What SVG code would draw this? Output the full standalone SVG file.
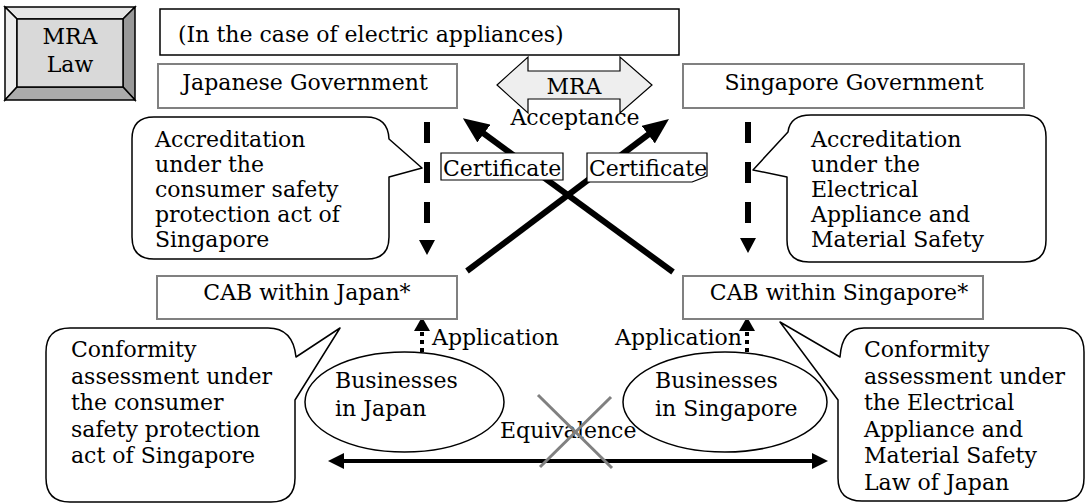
<svg xmlns="http://www.w3.org/2000/svg" width="1086" height="503" viewBox="0 0 1086 503">
<style>
text{font-family:"DejaVu Serif","Liberation Serif",serif;font-size:22px;fill:#000}
.c{text-anchor:middle}
.gbox{fill:#fff;stroke:#808080;stroke-width:2}
.bbox{fill:#fff;stroke:#000;stroke-width:1.5}
.call{fill:#fff;stroke:#000;stroke-width:1.5;stroke-linejoin:round}
.thick{stroke:#000;stroke-width:6;fill:none}
.dash{stroke:#000;stroke-width:6;stroke-dasharray:21 19;fill:none}
.dot{stroke:#000;stroke-width:4;stroke-dasharray:4 4;fill:none}
.head{fill:#000;stroke:none}
.bev{stroke:#000;stroke-width:1.5;stroke-linejoin:miter}
</style>
<defs>
<marker id="ah" viewBox="0 0 26 22" refX="6" refY="11" markerWidth="26" markerHeight="22" markerUnits="userSpaceOnUse" orient="auto">
<path d="M0,0 L26,11 L0,22 z" fill="#000"/>
</marker>
</defs>

<g id="mra-law">
<polygon class="bev" points="5,7 135,7 123,19 17,19" fill="#e6e6e6"/>
<polygon class="bev" points="5,7 17,19 17,87 5,100" fill="#ececec"/>
<polygon class="bev" points="135,7 135,100 123,87 123,19" fill="#999999"/>
<polygon class="bev" points="5,100 17,87 123,87 135,100" fill="#ababab"/>
<rect class="bev" x="17" y="19" width="106" height="68" fill="#d9d9d9"/>
<text class="c" x="70" y="44">MRA</text>
<text class="c" x="70" y="72">Law</text>
</g>

<g id="case-note">
<rect class="bbox" x="160" y="9" width="519" height="46"/>
<text x="178" y="41.5">(In the case of electric appliances)</text>
</g>

<g id="jp-gov">
<rect class="gbox" x="158" y="64" width="299" height="44"/>
<text class="c" x="305" y="90">Japanese Government</text>
</g>

<g id="sg-gov">
<rect class="gbox" x="683" y="64" width="341" height="44"/>
<text class="c" x="854" y="90">Singapore Government</text>
</g>

<g id="mra-arrow">
<path d="M497,85 L528,57 V71 H620 V57 L652,85 L620,113 V99 H528 V113 Z" fill="#eeeeee" stroke="#000" stroke-width="1.2"/>
<text class="c" x="574" y="94">MRA</text>
</g>

<g id="connectors">
<line class="thick" x1="673" y1="272" x2="479" y2="130" marker-end="url(#ah)"/>
<line class="thick" x1="467" y1="271" x2="653" y2="131" marker-end="url(#ah)"/>
<line class="dash" x1="427" y1="122" x2="427" y2="223"/>
<polygon class="head" points="419,240 435,240 427,255"/>
<line class="dash" x1="748" y1="122" x2="748" y2="223"/>
<polygon class="head" points="740,238 756,238 748,253"/>
<line class="dot" x1="422" y1="352" x2="422" y2="330"/>
<polygon class="head" points="414,331 430,331 422,317"/>
<line class="dot" x1="747" y1="352" x2="747" y2="330"/>
<polygon class="head" points="739,331 755,331 747,317"/>
<line stroke="#000" stroke-width="4" x1="340" y1="461" x2="816" y2="461"/>
<polygon class="head" points="328,461 344,453 344,469"/>
<polygon class="head" points="828,461 812,453 812,469"/>
</g>

<g id="acceptance-label">
<text class="c" x="575" y="125">Acceptance</text>
</g>

<g id="cert-1">
<path d="M441,153 H563 V180 H441 Z" fill="#fff" stroke="#000" stroke-width="1.2"/>
<text x="443" y="176">Certificate</text>
</g>

<g id="cert-2">
<path d="M587,153 H707 V176 Q700,179 692,182 H587 Z" fill="#fff" stroke="#000" stroke-width="1.2"/>
<text x="589" y="176">Certificate</text>
</g>

<g id="callout-jp-accreditation">
<path class="call" d="M154,117 H366 Q388,117 389,139 L422,168 L389,177 V237 Q389,259 367,259 H154 Q132,259 132,237 V139 Q132,117 154,117 Z"/>
<text x="155" y="147">Accreditation</text>
<text x="155" y="172">under the</text>
<text x="155" y="197">consumer safety</text>
<text x="155" y="222">protection act of</text>
<text x="155" y="247">Singapore</text>
</g>

<g id="callout-sg-accreditation">
<path class="call" d="M811,115 H1024 Q1046,115 1046,137 V240 Q1046,262 1024,262 H809 Q787,262 787,240 V177 L753,170 L788,132 Q790,115 811,115 Z"/>
<text x="811" y="147">Accreditation</text>
<text x="811" y="172">under the</text>
<text x="811" y="197">Electrical</text>
<text x="811" y="222">Appliance and</text>
<text x="811" y="247">Material Safety</text>
</g>

<g id="cab-jp">
<rect class="gbox" x="157" y="276" width="300" height="43"/>
<text class="c" x="307" y="300">CAB within Japan*</text>
</g>

<g id="cab-sg">
<rect class="gbox" x="683" y="276" width="300" height="43"/>
<text class="c" x="839" y="300">CAB within Singapore*</text>
</g>

<g id="application-labels">
<text x="432" y="345">Application</text>
<text x="615" y="345">Application</text>
</g>

<g id="biz-jp">
<ellipse cx="404.5" cy="402" rx="99.5" ry="50" fill="#fff" stroke="#000" stroke-width="1.5"/>
<text x="335" y="388">Businesses</text>
<text x="335" y="416">in Japan</text>
</g>

<g id="biz-sg">
<ellipse cx="725" cy="402" rx="102" ry="50" fill="#fff" stroke="#000" stroke-width="1.5"/>
<text x="655" y="388">Businesses</text>
<text x="655" y="416">in Singapore</text>
</g>

<g id="equivalence">
<text x="500" y="438">Equivalence</text>
<line x1="538" y1="395" x2="612" y2="468" stroke="#808080" stroke-width="3"/>
<line x1="611" y1="397" x2="540" y2="467" stroke="#808080" stroke-width="3"/>
</g>

<g id="callout-jp-conformity">
<path class="call" d="M70,328 H268 Q293,328 296,357 L340,328 L295,400 V478 Q295,502 271,502 H70 Q46,502 46,478 V352 Q46,328 70,328 Z"/>
<text x="71" y="357">Conformity</text>
<text x="71" y="383.5">assessment under</text>
<text x="71" y="410">the consumer</text>
<text x="71" y="436.5">safety protection</text>
<text x="71" y="463">act of Singapore</text>
</g>

<g id="callout-sg-conformity">
<path class="call" d="M864,328 H1061 Q1084,328 1084,352 V478 Q1084,501 1061,501 H862 Q838,501 838,478 V400 L780,322 L840,357 Q842,328 864,328 Z"/>
<text x="864" y="357">Conformity</text>
<text x="864" y="383.5">assessment under</text>
<text x="864" y="410">the Electrical</text>
<text x="864" y="436.5">Appliance and</text>
<text x="864" y="463">Material Safety</text>
<text x="864" y="489.5">Law of Japan</text>
</g>
</svg>
